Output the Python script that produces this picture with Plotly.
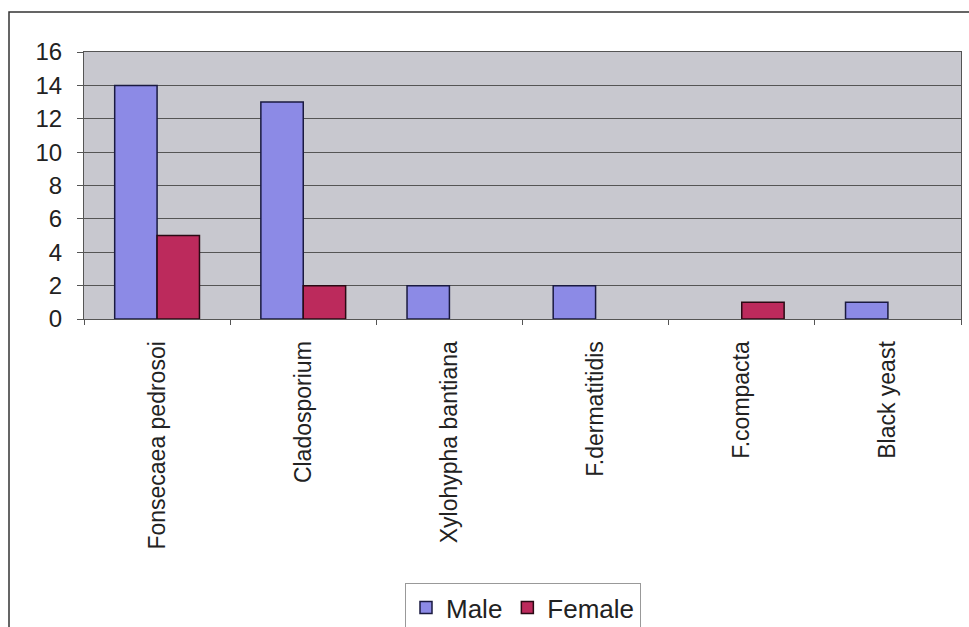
import plotly.graph_objects as go

# Species isolated and case counts by sex
species = ["Fonsecaea pedrosoi", "Cladosporium", "Xylohypha bantiana",
           "F.dermatitidis", "F.compacta", "Black yeast"]
male = [14, 13, 2, 2, 0, 1]
female = [5, 2, 0, 0, 1, 0]
y_ticks = [0, 2, 4, 6, 8, 10, 12, 14, 16]

W, H = 969, 627
ml, mr, mt, mb = 84, 8, 52, 308
pw, ph = W - ml - mr, H - mt - mb

font = "Liberation Sans, Arial, sans-serif"


def outline(vals):
    # zero-height bars get no outline
    return [1.5 if v else 0 for v in vals]


fig = go.Figure()
fig.add_trace(go.Bar(x=species, y=male, name="Male",
                     marker=dict(color="#8C8AE6",
                                 line=dict(color="#1a1a40", width=outline(male)))))
fig.add_trace(go.Bar(x=species, y=female, name="Female",
                     marker=dict(color="#BC2A5C",
                                 line=dict(color="#2a0a14", width=outline(female)))))


def px_x(v):
    return (v - ml) / pw


def px_y(v):
    return (H - mb - v) / ph


# outer chart frame
fig.add_shape(type="rect", xref="paper", yref="paper",
              x0=px_x(9), x1=px_x(990), y0=px_y(12), y1=px_y(650),
              line=dict(color="#333333", width=1.5), fillcolor="rgba(0,0,0,0)",
              layer="below")

fig.update_layout(
    width=W, height=H,
    margin=dict(l=ml, r=mr, t=mt, b=mb, autoexpand=False),
    paper_bgcolor="white",
    plot_bgcolor="#C8C8CF",
    barmode="group",
    bargap=0.42,
    bargroupgap=0,
    font=dict(family=font, color="#222222"),
    showlegend=True,
    legend=dict(orientation="h", xref="container", yref="container",
                x=523 / W, xanchor="center",
                y=1 - 583 / H, yanchor="top",
                font=dict(size=26, family=font, color="#222222"),
                bordercolor="#999999", borderwidth=1, bgcolor="white",
                itemwidth=30, tracegroupgap=0),
)

fig.update_xaxes(
    tickangle=-90, tickfont=dict(size=23, family=font, color="#222222"),
    showgrid=False, showline=True, linecolor="#555555", linewidth=1, mirror=True,
    ticks="outside", tickson="boundaries", ticklen=5, tickcolor="#555555",
    ticklabelstandoff=12, automargin=False,
)
fig.update_yaxes(
    range=[0, 16], tickvals=y_ticks, tickfont=dict(size=24, family=font, color="#222222"),
    showgrid=True, gridcolor="#555555", gridwidth=1,
    showline=True, linecolor="#555555", linewidth=1, mirror=True,
    ticks="outside", ticklen=6, tickcolor="#555555", zeroline=False,
    ticklabelstandoff=10, automargin=False,
)

fig.write_html("out.html")
